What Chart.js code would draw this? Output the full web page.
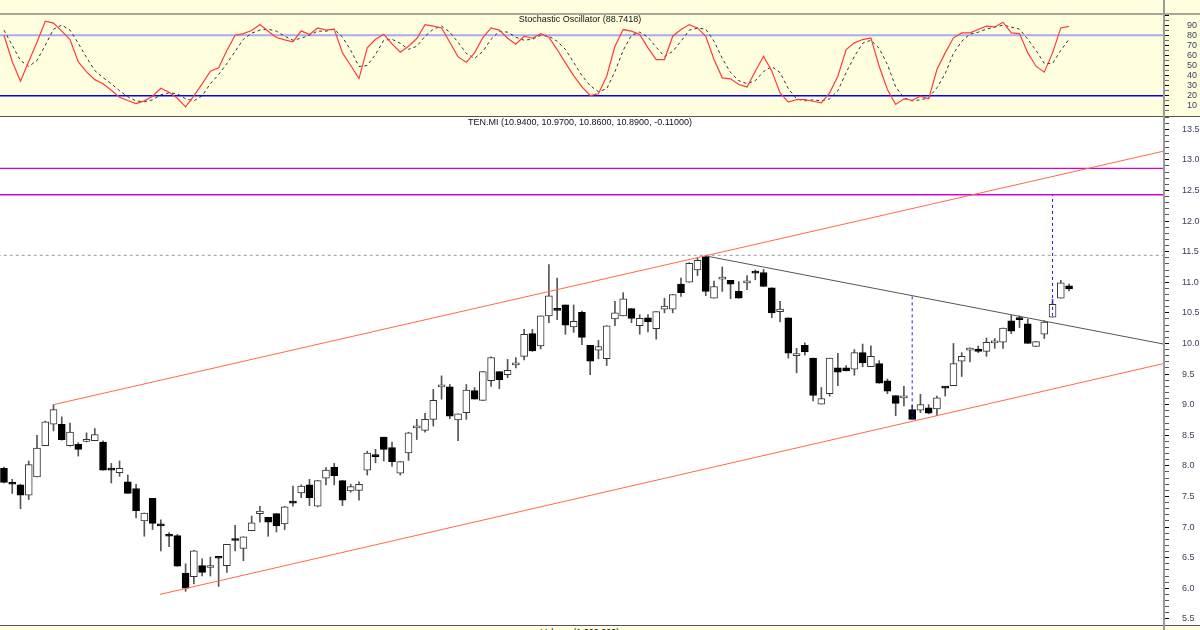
<!DOCTYPE html>
<html>
<head>
<meta charset="utf-8">
<title>TEN.MI</title>
<script src="https://cdn.jsdelivr.net/npm/chart.js@4.4.1/dist/chart.umd.min.js"></script>
<style>
  html, body { margin: 0; padding: 0; background: #fff; }
  #page { position: relative; width: 1200px; height: 630px; overflow: hidden; background: #fff; font-family: "Liberation Sans", Arial, sans-serif; }
  .panel { position: absolute; left: 0; width: 1200px; }
  #topStrip { top: 0; height: 13px; background: #ffffe0; border-bottom: 2px solid #a8a898; }
  #stochBox { top: 15px; height: 101px; background: #ffffe0; }
  #stochEdge { top: 116px; height: 1px; background: #555; }
  #mainBox { top: 117px; height: 508px; background: #fff; }
  #volBox { top: 625px; height: 5px; background: #ffffe0; border-top: 1px solid #555; overflow: hidden; }
  #axisLine { position: absolute; left: 1163px; top: 0; width: 2px; height: 630px; background: #9a9a9a; z-index: 5; }
  .cap { position: absolute; left: 430px; width: 300px; text-align: center; font-size: 9px; color: #111; white-space: nowrap; z-index: 6; }
</style>
</head>
<body>
<div id="page">
  <div class="panel" id="topStrip"></div>
  <div class="panel" id="stochBox"><canvas id="stochChart"></canvas></div>
  <div class="panel" id="stochEdge"></div>
  <div class="panel" id="mainBox"><canvas id="priceChart"></canvas></div>
  <div class="panel" id="volBox"><div class="cap" style="top:1px">Volume (1,000,000)</div></div>
  <div id="axisLine"></div>
  <div class="cap" style="top:14px">Stochastic Oscillator (88.7418)</div>
  <div class="cap" style="top:117px">TEN.MI (10.9400, 10.9700, 10.8600, 10.8900, -0.11000)</div>
</div>
<script>
// 캔들 데이터 (0 ~ 129)
const opens = [
  7.96, 7.72, 7.69, 7.52, 7.82, 8.33, 8.68, 8.68, 8.33, 8.35,
  8.40, 8.41, 8.39, 7.95, 7.89, 7.74, 7.63, 7.10, 7.47, 7.04,
  6.87, 6.86, 6.25, 6.19, 6.37, 6.34, 6.51, 6.37, 6.80, 6.65,
  6.94, 7.22, 7.16, 7.22, 7.05, 7.40, 7.56, 7.69, 7.34, 7.80,
  7.98, 7.76, 7.59, 7.60, 7.93, 8.17, 8.47, 8.30, 7.88, 8.21,
  8.62, 8.58, 8.76, 9.29, 9.29, 8.75, 8.87, 9.23, 9.07, 9.39,
  9.54, 9.49, 9.65, 9.79, 10.16, 9.96, 10.45, 10.55, 10.63, 10.27,
  10.51, 9.97, 9.89, 9.75, 10.40, 10.45, 10.57, 10.29, 10.42, 10.24,
  10.56, 10.56, 10.97, 11.00, 11.20, 11.42, 10.74, 11.05, 11.03, 10.85,
  10.99, 11.16, 11.16, 10.91, 10.52, 10.42, 9.80, 9.97, 9.76, 9.01,
  9.18, 9.60, 9.60, 9.58, 9.85, 9.62, 9.67, 9.39, 9.15, 9.11,
  8.92, 8.91, 8.95, 8.93, 9.30, 9.31, 9.71, 9.89, 9.91, 9.87,
  10.01, 10.02, 10.37, 10.41, 10.32, 9.95, 10.15, 10.43, 10.74, 10.94
];
const highs = [
  7.98, 7.78, 7.70, 8.08, 8.50, 8.73, 9.00, 8.80, 8.70, 8.38,
  8.54, 8.61, 8.41, 8.04, 8.08, 7.85, 7.70, 7.23, 7.47, 7.12,
  6.91, 6.88, 6.40, 6.62, 6.48, 6.51, 6.52, 6.72, 7.03, 6.84,
  7.18, 7.34, 7.16, 7.22, 7.34, 7.67, 7.69, 7.78, 7.76, 7.97,
  8.04, 7.76, 7.70, 7.74, 8.24, 8.27, 8.47, 8.39, 8.07, 8.55,
  8.76, 8.86, 9.25, 9.47, 9.33, 8.85, 9.33, 9.28, 9.54, 9.78,
  9.54, 9.74, 9.77, 10.23, 10.23, 10.45, 11.29, 11.07, 10.63, 10.63,
  10.53, 9.97, 10.05, 10.29, 10.69, 10.83, 10.57, 10.47, 10.47, 10.52,
  10.74, 10.80, 11.07, 11.32, 11.39, 11.44, 11.02, 11.25, 11.03, 11.01,
  11.11, 11.20, 11.21, 10.91, 10.69, 10.42, 9.92, 10.01, 9.76, 9.28,
  9.76, 9.84, 9.64, 9.90, 9.99, 9.96, 9.72, 9.42, 9.15, 9.30,
  8.99, 9.17, 9.00, 9.14, 9.30, 10.00, 9.85, 9.93, 9.96, 10.09,
  10.08, 10.25, 10.46, 10.45, 10.40, 10.03, 10.37, 10.72, 11.03, 10.97
];
const lows = [
  7.72, 7.55, 7.30, 7.45, 7.82, 8.33, 8.57, 8.42, 8.32, 8.16,
  8.39, 8.41, 7.93, 7.72, 7.83, 7.55, 7.15, 6.85, 6.96, 6.61,
  6.68, 6.36, 5.95, 6.07, 6.20, 6.20, 6.03, 6.26, 6.61, 6.45,
  6.94, 7.08, 6.85, 6.92, 6.96, 7.34, 7.48, 7.35, 7.33, 7.69,
  7.69, 7.35, 7.57, 7.44, 7.85, 8.05, 8.08, 7.99, 7.85, 8.09,
  8.43, 8.55, 8.65, 9.09, 8.77, 8.41, 8.76, 9.09, 9.07, 9.30,
  9.26, 9.44, 9.60, 9.73, 9.87, 9.91, 10.34, 10.39, 10.15, 10.18,
  9.98, 9.49, 9.75, 9.64, 10.29, 10.45, 10.34, 10.15, 10.19, 10.07,
  10.50, 10.50, 10.77, 11.00, 11.11, 10.78, 10.74, 10.85, 10.73, 10.74,
  10.88, 11.04, 10.93, 10.42, 10.35, 9.76, 9.52, 9.81, 9.06, 9.01,
  9.14, 9.31, 9.55, 9.48, 9.62, 9.62, 9.35, 9.18, 8.82, 8.98,
  8.76, 8.87, 8.85, 8.82, 9.14, 9.31, 9.46, 9.70, 9.85, 9.79,
  9.92, 9.92, 10.16, 10.26, 10.00, 9.95, 10.08, 10.43, 10.74, 10.86
];
const closes = [
  7.73, 7.70, 7.52, 8.02, 8.29, 8.72, 8.92, 8.43, 8.55, 8.27,
  8.43, 8.51, 7.93, 7.93, 7.96, 7.55, 7.27, 7.23, 7.06, 7.02,
  6.85, 6.36, 6.00, 6.61, 6.26, 6.35, 6.49, 6.72, 6.78, 6.84,
  7.07, 7.26, 7.08, 7.02, 7.33, 7.39, 7.67, 7.48, 7.76, 7.93,
  7.84, 7.44, 7.66, 7.70, 8.21, 8.15, 8.27, 8.07, 8.07, 8.54,
  8.63, 8.76, 9.07, 9.30, 8.81, 8.85, 9.24, 9.09, 9.54, 9.77,
  9.41, 9.56, 9.66, 10.15, 9.88, 10.45, 10.78, 10.54, 10.30, 10.36,
  10.10, 9.71, 9.95, 10.29, 10.50, 10.73, 10.41, 10.41, 10.35, 10.52,
  10.61, 10.80, 10.83, 11.31, 11.36, 10.85, 10.93, 11.06, 10.97, 10.74,
  10.99, 11.15, 10.93, 10.50, 10.56, 9.84, 9.83, 9.86, 9.15, 9.10,
  9.76, 9.53, 9.55, 9.85, 9.68, 9.79, 9.35, 9.22, 9.02, 9.12,
  8.76, 9.00, 8.86, 9.11, 9.27, 9.67, 9.79, 9.89, 9.87, 10.02,
  10.01, 10.25, 10.20, 10.39, 10.00, 10.03, 10.35, 10.64, 10.99, 10.89
];

// 스토캐스틱 %K, %D
const stochK = [
  80, 54, 34.5, 54, 73, 93.9, 92, 84, 75.7, 53.6,
  43.7, 36, 32, 25.5, 18.6, 15.3, 12.3, 15, 19.6, 27.5,
  23.6, 17.6, 9, 20, 31.8, 44.4, 47.7, 64.8, 80, 81.6,
  84.6, 90.5, 84, 77.7, 75.4, 73.4, 84.3, 80.7, 87.2, 85,
  86, 62.5, 50, 37, 67.5, 76, 81, 71.4, 63.2, 69,
  76.7, 90.5, 89, 87.2, 73, 58.5, 53.3, 62.5, 77.7, 87.2,
  85, 77, 71, 79, 77, 81.6, 78, 65.8, 52.6, 40,
  28.8, 20.3, 22, 39.4, 69, 85.6, 84, 80.7, 67.5, 55.9,
  55.9, 79, 85.6, 90.5, 87.2, 79, 55.9, 37.8, 36.8, 31.2,
  28.8, 44.4, 59.2, 44.4, 22.9, 13.7, 16.3, 16.3, 14.6, 13,
  22.9, 39.4, 65.8, 72.4, 75.7, 77.4, 49.3, 26.2, 11.4, 17,
  15.6, 19.6, 17, 46, 62.5, 77.4, 82.3, 82.3, 85.6, 88.9,
  88.2, 92.9, 82.3, 81.6, 62.5, 49.3, 43.4, 62.5, 87.2, 88.74
];
const stochD = [
  85, 70, 55, 49, 55, 70, 86, 90, 85, 72,
  58, 45, 38, 32, 25, 19, 15, 14, 16, 21,
  23, 22, 17, 15, 20, 32, 41, 52, 64, 76,
  82, 85, 86, 84, 79, 75, 77, 80, 84, 84,
  86, 78, 65, 49, 50, 61, 75, 76, 72, 66,
  69, 79, 86, 89, 83, 73, 62, 57, 64, 76,
  84, 83, 78, 75, 76, 80, 79, 74, 66, 53,
  40, 30, 24, 27, 44, 65, 80, 83, 78, 68,
  59, 64, 74, 85, 87, 86, 74, 57, 43, 35,
  32, 35, 44, 49, 43, 27, 17, 15, 16, 15,
  17, 25, 43, 59, 72, 75, 67, 51, 29, 18,
  15, 16, 18, 28, 42, 62, 74, 81, 83, 86,
  88, 90, 88, 86, 76, 65, 52, 52, 65, 76
];
const stochLevels = [80, 20];

// 추세선 [인덱스, 가격]
const upperChannel = [[6, 9.0], [142, 13.19]];
const lowerChannel = [[18.9, 5.90], [142, 9.72]];
const downTrend = [[85, 11.43], [142, 9.95]];
const peakLevel = 11.44;
const targetLevels = [12.86, 12.43];
const measureLines = [
  [[110, 8.76], [110, 10.77]],
  [[127, 10.45], [127, 12.43]],
];

const xMin = -0.48;
const xMax = 140.5;
const idx = opens.map((_, i) => i);

function fixAxis(axis) {
  axis.width = 36;
  axis.paddingTop = 0;
  axis.paddingBottom = 0;
}

function toPts(pairs) {
  return pairs.map((p) => ({ x: p[0], y: p[1] }));
}

function plainLine(data, color, width, dash) {
  return {
    type: "line",
    data: data,
    borderColor: color,
    borderWidth: width,
    borderDash: dash || [],
    pointRadius: 0,
    fill: false,
    tension: 0,
    order: 0,
  };
}

try {
  // 스토캐스틱 패널
  const ctx1 = document.getElementById("stochChart").getContext("2d");
  new Chart(ctx1, {
    type: "line",
    data: {
      datasets: [
        plainLine(idx.map((i) => ({ x: i, y: stochK[i] })), "#ff3a3a", 1.2),
        plainLine(idx.map((i) => ({ x: i, y: stochD[i] })), "#333", 1, [3, 3]),
        plainLine(toPts([[xMin - 1, stochLevels[0]], [xMax + 1, stochLevels[0]]]), "#aaaaee", 2),
        plainLine(toPts([[xMin - 1, stochLevels[1]], [xMax + 1, stochLevels[1]]]), "#0000ff", 1.5),
      ],
    },
    options: {
      responsive: true,
      maintainAspectRatio: false,
      animation: false,
      layout: { padding: 0 },
      plugins: { legend: { display: false }, tooltip: { enabled: false } },
      scales: {
        x: { type: "linear", display: false, min: xMin, max: xMax },
        y: {
          position: "right",
          min: 0,
          max: 100,
          afterFit: fixAxis,
          border: { display: false },
          grid: {
            drawOnChartArea: false,
            drawTicks: true,
            tickLength: 5,
            tickColor: (c) => (c.tick && c.tick.value % 10 === 0 ? "#000" : "#666"),
          },
          ticks: {
            stepSize: 5,
            autoSkip: false,
            padding: 18,
            color: "#3c3c5c",
            font: { family: "Liberation Sans", size: 9 },
            callback: (v) => (v % 10 === 0 && v > 0 && v < 100 ? String(v) : ""),
          },
        },
      },
    },
  });
} catch (e) {
  console.error("스토캐스틱 차트 생성 중 오류 발생:", e);
}

try {
  // 가격 캔들 차트
  const ctx2 = document.getElementById("priceChart").getContext("2d");
  const isDown = idx.map((i) => closes[i] < opens[i]);
  new Chart(ctx2, {
    type: "bar",
    data: {
      datasets: [
        plainLine(toPts(upperChannel), "#ff6a45", 1),
        plainLine(toPts(lowerChannel), "#ff6a45", 1),
        plainLine(toPts(downTrend), "#555", 1),
        plainLine(toPts([[xMin - 1, peakLevel], [xMax + 1, peakLevel]]), "#999", 1, [3, 3]),
        plainLine(toPts([[xMin - 1, targetLevels[0]], [xMax + 1, targetLevels[0]]]), "#d800d8", 1.3),
        plainLine(toPts([[xMin - 1, targetLevels[1]], [xMax + 1, targetLevels[1]]]), "#d800d8", 1.3),
        plainLine(toPts(measureLines[0]), "#1a1aff", 1, [3, 3]),
        plainLine(toPts(measureLines[1]), "#1a1aff", 1, [3, 3]),
        {
          label: "body",
          data: idx.map((i) => ({ x: i, y: [opens[i], closes[i]] })),
          backgroundColor: idx.map((i) => (isDown[i] ? "#000" : "#fff")),
          borderColor: idx.map((i) => (isDown[i] ? "#000" : "#333")),
          borderWidth: 1,
          borderSkipped: false,
          barThickness: 7,
          minBarLength: 2,
          grouped: false,
          order: 1,
        },
        {
          label: "wick",
          data: idx.map((i) => ({ x: i, y: [lows[i], highs[i]] })),
          backgroundColor: "#555",
          borderWidth: 0,
          barThickness: 1,
          grouped: false,
          order: 2,
        },
      ],
    },
    options: {
      responsive: true,
      maintainAspectRatio: false,
      animation: false,
      layout: { padding: 0 },
      plugins: { legend: { display: false }, tooltip: { enabled: false } },
      scales: {
        x: { type: "linear", display: false, offset: false, min: xMin, max: xMax },
        y: {
          position: "right",
          min: 5.4,
          max: 13.7,
          afterFit: fixAxis,
          border: { display: false },
          grid: {
            drawOnChartArea: false,
            drawTicks: true,
            tickLength: 5,
            tickColor: (c) => (c.tick && Math.round(c.tick.value * 10) % 5 === 0 ? "#000" : "#555"),
          },
          ticks: {
            stepSize: 0.1,
            autoSkip: false,
            padding: 13,
            color: "#3c3c5c",
            font: { family: "Liberation Sans", size: 9 },
            callback: (v) => (Math.abs(v * 2 - Math.round(v * 2)) < 0.001 ? Number(v).toFixed(1) : ""),
          },
        },
      },
    },
  });
} catch (e) {
  console.error("가격 차트 생성 중 오류 발생:", e);
}
</script>
</body>
</html>
